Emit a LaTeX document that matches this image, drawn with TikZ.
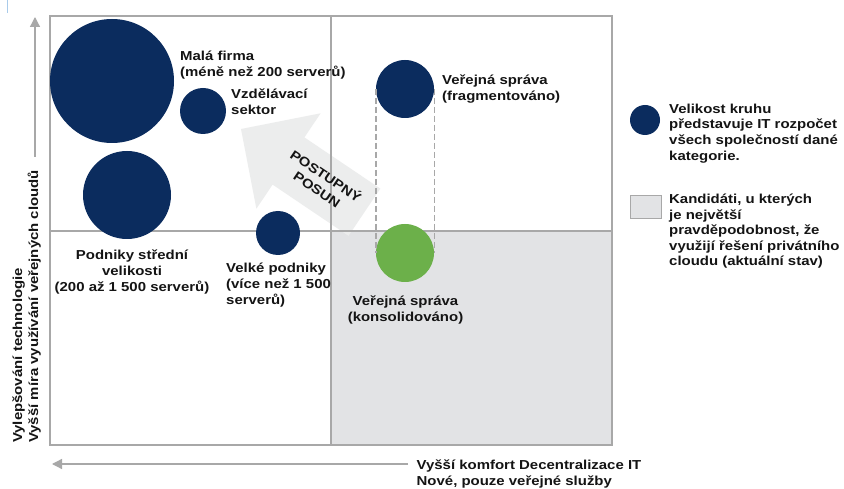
\documentclass[tikz,border=0pt]{standalone}
\usepackage{fontspec}
\newfontfamily\lblfont[FakeStretch=1.15]{Liberation Sans}
\usetikzlibrary{arrows.meta}
\definecolor{navy}{HTML}{0B2C5E}
\definecolor{leafgreen}{HTML}{6CB04A}
\definecolor{quadgray}{HTML}{E2E3E5}
\definecolor{framegray}{HTML}{A8A8A8}
\definecolor{arrowfill}{HTML}{ECEDED}
\definecolor{tickblue}{HTML}{A9CBEA}
\begin{document}
\begin{tikzpicture}[x=1pt,y=-1pt,
  lbl/.style={font={\lblfont\bfseries\fontsize{13}{16}\selectfont}, inner sep=0pt, align=left, text=black!92},
  leglbl/.style={lbl, font={\lblfont\bfseries\fontsize{13}{15.6}\selectfont}},
  bubble/.style={circle, fill=navy, draw=none, inner sep=0pt},
  greenbubble/.style={circle, fill=leafgreen, draw=none, inner sep=0pt},
  frameline/.style={draw=framegray, line width=1.3pt},
  dashline/.style={draw=framegray, line width=1.4pt, dash pattern=on 6pt off 3pt},
  axisline/.style={draw=framegray, line width=1.3pt, -{Triangle[length=10pt,width=10pt]}}
]
\useasboundingbox (0,0) rectangle (844,489);
\fill[white] (0,0) rectangle (844,489);
% small tick top-left
\draw[tickblue, line width=0.8pt] (7,0) -- (7,13);
% shaded quadrant
\fill[quadgray] (331,231) rectangle (612,445);
% big arrow
\fill[arrowfill] (241,129) -- (320.6,113.3) -- (304.4,137.4) -- (380.3,188.6)
  -- (348.5,235.8) -- (272.6,184.6) -- (256.4,208.7) -- cycle;
% frame
\draw[frameline] (50,16) rectangle (612,445);
\draw[frameline] (331,16) -- (331,445);
\draw[frameline] (50,231) -- (612,231);
% posun text
\node[lbl, align=center, rotate=-34] (posun) at (322,182) {POSTUPNÝ\\POSUN};
% bubbles
\node[bubble, minimum size=124pt] (mala) at (112,81) {};
\node[bubble, minimum size=46pt] (vzdel) at (203,111) {};
\node[bubble, minimum size=88pt] (stredni) at (127,195) {};
\node[bubble, minimum size=44pt] (velke) at (278,233) {};
\node[bubble, minimum size=58pt] (vsfrag) at (405,89) {};
\node[greenbubble, minimum size=58pt] (vskons) at (405,253) {};
\draw[dashline] (vsfrag.west) -- (vskons.west);
\draw[dashline] (vsfrag.east) -- (vskons.east);
% labels (base anchor = baseline of the last line)
\node[lbl, anchor=base west] (tmala) at (180,77) {Malá firma\\(méně než 200 serverů)};
\node[lbl, anchor=base west] (tvzdel) at (231,115) {Vzdělávací\\sektor};
\node[lbl, anchor=base west] (tfrag) at (442,101) {Veřejná správa\\(fragmentováno)};
\node[lbl, anchor=base, align=center] (tstred) at (132,291) {Podniky střední\\velikosti\\(200 až 1 500 serverů)};
\node[lbl, anchor=base west] (tvelke) at (226,304.5) {Velké podniky\\(více než 1 500\\serverů)};
\node[lbl, anchor=base, align=center] (tkons) at (405.5,321.5) {Veřejná správa\\(konsolidováno)};
% legend
\node[bubble, minimum size=30pt] (legc) at (645,120) {};
\node[leglbl, anchor=base west] (tlegc) at (669,160.1) {Velikost kruhu\\představuje IT rozpočet\\všech společností dané\\kategorie.};
\node[draw=framegray, fill=quadgray, line width=1pt, inner sep=0pt, minimum width=31pt, minimum height=23pt] (legsq) at (645.5,207.5) {};
\node[leglbl, anchor=base west] (tlegsq) at (669,265.9) {Kandidáti, u kterých\\je největší\\pravděpodobnost, že\\využijí řešení privátního\\cloudu (aktuální stav)};
% axes
\coordinate (ya) at (35,157);
\coordinate (yb) at (35,17);
\draw[axisline] (ya) -- (yb);
\coordinate (xa) at (408,464);
\coordinate (xb) at (52,464);
\draw[axisline] (xa) -- (xb);
\node[lbl, rotate=90, anchor=base west] (ylab) at (38,443) {Vylepšování technologie\\Vyšší míra využívání veřejných cloudů};
\node[lbl, anchor=base west] (xlab) at (416.5,485) {Vyšší komfort Decentralizace IT\\Nové, pouze veřejné služby};
\end{tikzpicture}
\end{document}
